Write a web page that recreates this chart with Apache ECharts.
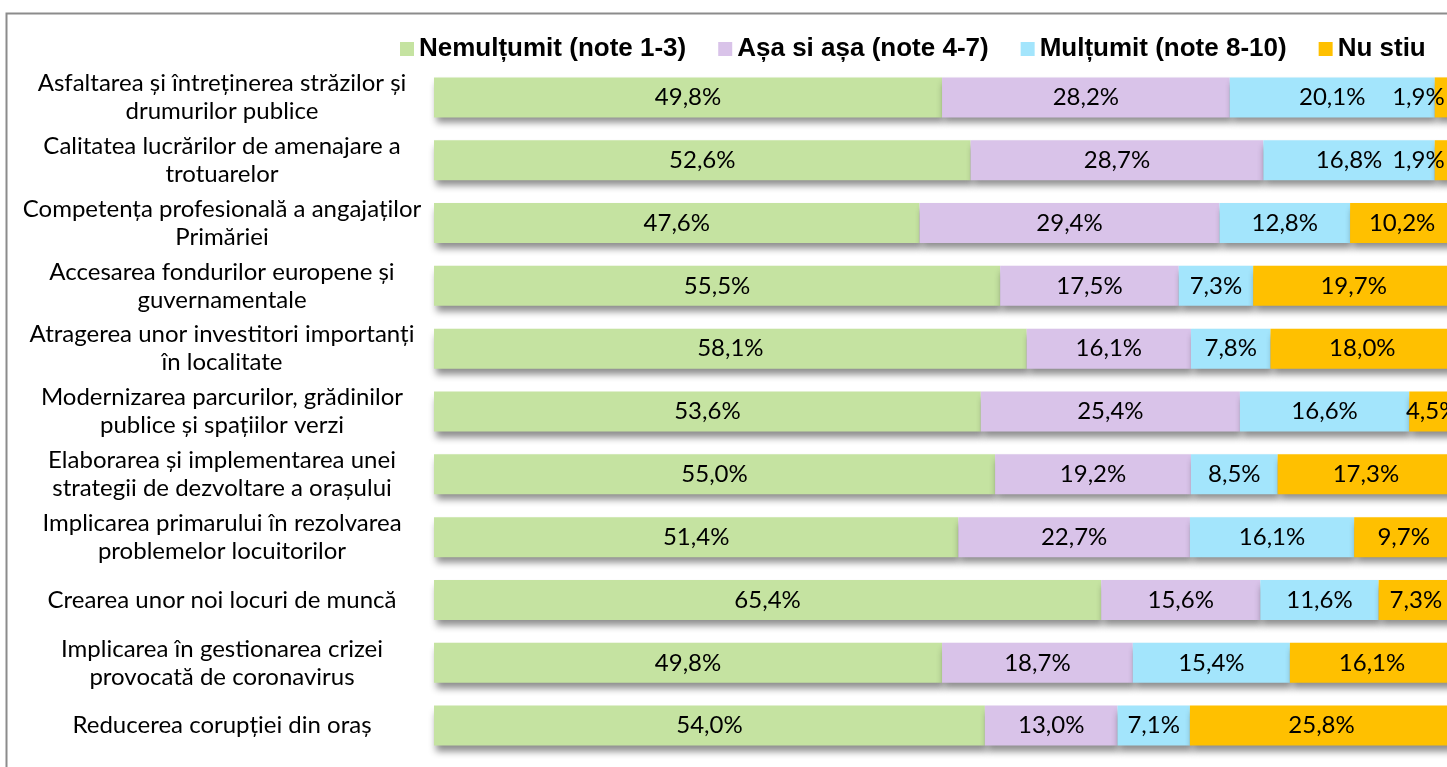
<!DOCTYPE html>
<html lang="ro">
  <head>
    <meta charset="UTF-8" />
    <title>Satisfacție</title>
    <style>
      html,
      body {
        margin: 0;
        padding: 0;
        background: #fff;
      }
      #main {
        width: 1447px;
        height: 767px;
      }
    </style>
  </head>
  <body>
    <div id="main"></div>
    <script src="https://cdn.jsdelivr.net/npm/echarts@6/dist/echarts.min.js"></script>
    <script>
      const categories = [
        "Asfaltarea și întreținerea străzilor și\ndrumurilor publice",
        "Calitatea lucrărilor de amenajare a\ntrotuarelor",
        "Competența profesională a angajaților\nPrimăriei",
        "Accesarea fondurilor europene și\nguvernamentale",
        "Atragerea unor investitori importanți\nîn localitate",
        "Modernizarea parcurilor, grădinilor\npublice și spațiilor verzi",
        "Elaborarea și implementarea unei\nstrategii de dezvoltare a orașului",
        "Implicarea primarului în rezolvarea\nproblemelor locuitorilor",
        "Crearea unor noi locuri de muncă",
        "Implicarea în gestionarea crizei\nprovocată de coronavirus",
        "Reducerea corupției din oraș",
      ];
      const seriesNames = [
        "Nemulțumit (note 1-3)",
        "Așa si așa (note 4-7)",
        "Mulțumit (note 8-10)",
        "Nu stiu",
      ];
      const nemultumit = [49.8, 52.6, 47.6, 55.5, 58.1, 53.6, 55.0, 51.4, 65.4, 49.8, 54.0];
      const asaSiAsa = [28.2, 28.7, 29.4, 17.5, 16.1, 25.4, 19.2, 22.7, 15.6, 18.7, 13.0];
      const multumit = [20.1, 16.8, 12.8, 7.3, 7.8, 16.6, 8.5, 16.1, 11.6, 15.4, 7.1];
      const nuStiu = [1.9, 1.9, 10.2, 19.7, 18.0, 4.5, 17.3, 9.7, 7.3, 16.1, 25.8];

      const colors = ["#C5E3A1", "#D9C3E9", "#A3E5FC", "#FFC000"];
      const font = "Lato, 'Open Sans', sans-serif";

      const chart = echarts.init(document.getElementById("main"));

      // tiny segments at the cut-off right edge: keep label inside the picture
      const toData = (arr) =>
        arr.map((v) =>
          v < 3 ? { value: v, label: { offset: [-26, 0] } } : v
        );

      const series = [nemultumit, asaSiAsa, multumit, nuStiu].map((arr, i) => ({
        name: seriesNames[i],
        type: "bar",
        stack: "total",
        barWidth: 40,
        clip: false,
        data: toData(arr),
        itemStyle: {
          color: colors[i],
          shadowColor: "rgba(0,0,0,0.45)",
          shadowBlur: 7,
          shadowOffsetX: 2,
          shadowOffsetY: 6,
        },
        label: {
          show: true,
          position: "inside",
          color: "#000",
          fontFamily: font,
          fontSize: 24,
          formatter: (p) => p.value.toFixed(1).replace(".", ",") + "%",
        },
      }));

      const option = {
        animation: false,
        backgroundColor: "#fff",
        graphic: [
          {
            type: "rect",
            shape: { x: 6.5, y: 13.5, width: 1500, height: 800 },
            style: { fill: "none", stroke: "#8c8c8c", lineWidth: 2 },
            silent: true,
            z: -1,
          },
        ],
        legend: {
          top: 31,
          left: 395,
          itemWidth: 14,
          itemHeight: 14,
          itemGap: 32,
          icon: "rect",
          textStyle: {
            fontFamily: "'Liberation Sans', Arial, sans-serif",
            fontWeight: "bold",
            fontSize: 26,
            color: "#000",
          },
          data: seriesNames,
        },
        grid: {
          left: 434,
          right: 0,
          top: 66,
          bottom: 10,
          containLabel: false,
        },
        xAxis: {
          type: "value",
          min: 0,
          // the original plot area is cut off a few pixels before 100%
          max: 99.3,
          show: false,
        },
        yAxis: {
          type: "category",
          inverse: true,
          data: categories,
          axisLine: { show: false },
          axisTick: { show: false },
          axisLabel: {
            align: "center",
            margin: 212,
            fontFamily: font,
            fontSize: 24,
            lineHeight: 28,
            color: "#000",
          },
        },
        series: series,
      };
      chart.setOption(option);
    </script>
  </body>
</html>
